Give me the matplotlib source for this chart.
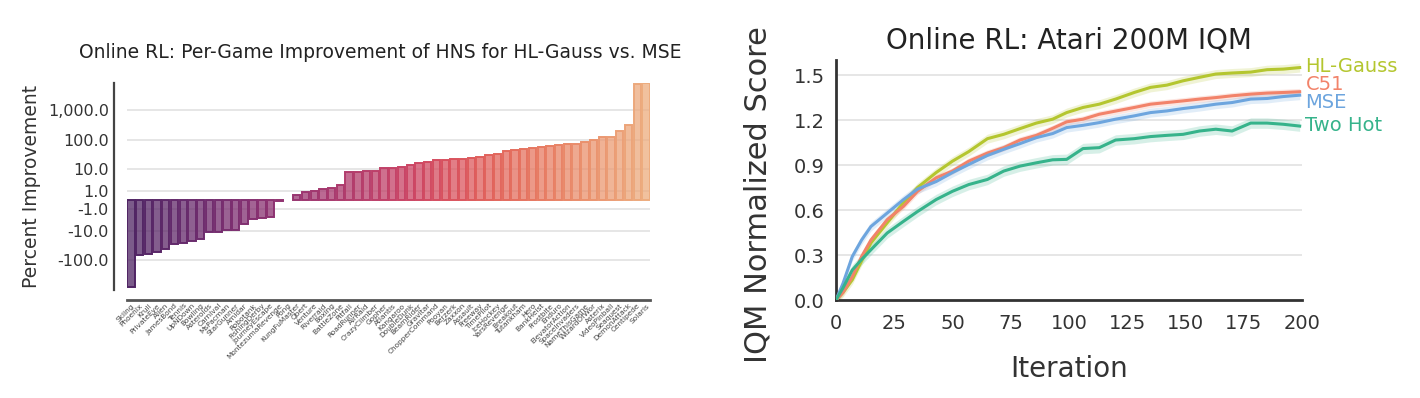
import numpy as np
import matplotlib
matplotlib.use("Agg")
import matplotlib.pyplot as plt
import seaborn as sns
from matplotlib.ticker import FixedLocator, FuncFormatter

plt.rcParams['font.family'] = ['DejaVu Sans']

# ---------------- data: per-game improvement ----------------
games = ["Skiing", "Phoenix", "Krull", "PrivateEye", "Alien", "JamesBond", "Tennis",
         "UpNDown", "Bowling", "Asteroids", "Carnival", "MsPacman", "StarGunner", "Amidar",
         "Robotank", "FishingDerby", "JourneyEscape", "MontezumaRevenge", "Pong",
         "KungFuMaster", "Qbert", "Venture", "Riverraid", "Boxing", "BattleZone", "Pitfall",
         "RoadRunner", "AirRaid", "CrazyClimber", "Gopher", "Atlantis", "Kangaroo",
         "DoubleDunk", "BeamRider", "Gravitar", "ChopperCommand", "Pooyan", "Berzerk",
         "Zaxxon", "Assault", "Freeway", "TimePilot", "IceHockey", "YarsRevenge",
         "Breakout", "Tutankham", "Hero", "BankHeist", "Frostbite", "Enduro",
         "ElevatorAction", "SpaceInvaders", "NameThisGame", "WizardOfWor", "Asterix",
         "VideoPinball", "Seaquest", "DemonAttack", "Centipede", "Solaris"]
improvement = [-812, -68, -62, -53, -43, -28, -27, -23, -19.4, -11, -11, -9.2, -9.2, -5.5,
               -3.4, -3.0, -2.7, -0.05, float('nan'), 0.43, 0.81, 1.0, 1.33, 1.5, 2.16, 7.4,
               7.4, 8.0, 8.0, 10.4, 10.4, 11.4, 13.5, 15.6, 17, 20, 20, 21.7, 21.7, 23.5,
               25.5, 30, 32.5, 41, 44, 48, 51.7, 56, 60.7, 65.5, 71, 71, 83, 97, 122, 122,
               194, 308, 7190, 7760]
y_ticks_left = [-100, -10, -1, 1, 10, 100, 1000]

# ---------------- data: learning curves ----------------
iterations = [0, 3, 7, 11, 15, 22, 29, 35, 43, 50, 57, 65, 72, 79, 86, 93, 99, 106, 113,
              120, 128, 135, 142, 149, 156, 163, 170, 178, 185, 192, 199]
hl_gauss = [0, 0.05, 0.134, 0.26, 0.38, 0.515, 0.65, 0.75, 0.85, 0.926, 0.99, 1.076, 1.105,
            1.143, 1.18, 1.206, 1.25, 1.284, 1.306, 1.34, 1.384, 1.418, 1.433, 1.462, 1.485,
            1.507, 1.514, 1.52, 1.536, 1.54, 1.55]
c51 = [0, 0.05, 0.156, 0.29, 0.40, 0.536, 0.625, 0.725, 0.815, 0.86, 0.926, 0.98, 1.016,
       1.067, 1.098, 1.145, 1.188, 1.206, 1.239, 1.26, 1.284, 1.306, 1.317, 1.328, 1.34,
       1.35, 1.362, 1.373, 1.38, 1.384, 1.389]
mse = [0, 0.11, 0.29, 0.40, 0.49, 0.58, 0.67, 0.74, 0.79, 0.85, 0.904, 0.964, 1.005, 1.043,
       1.083, 1.11, 1.15, 1.165, 1.183, 1.206, 1.228, 1.25, 1.261, 1.277, 1.29, 1.306, 1.317,
       1.34, 1.344, 1.357, 1.366]
two_hot = [0, 0.08, 0.2, 0.27, 0.335, 0.447, 0.525, 0.59, 0.67, 0.725, 0.77, 0.804, 0.86,
           0.893, 0.915, 0.935, 0.938, 1.01, 1.016, 1.067, 1.076, 1.09, 1.098, 1.105, 1.127,
           1.139, 1.127, 1.18, 1.18, 1.172, 1.16]
band_halfwidth = {"HL-Gauss": 0.03, "C51": 0.022, "MSE": 0.03, "Two Hot": 0.035}
series_names = ["HL-Gauss", "C51", "MSE", "Two Hot"]
label_y = [1.56, 1.44, 1.32, 1.165]

# ---------------- figure ----------------
fig = plt.figure(figsize=(14.2, 3.98), dpi=100)

# left panel
axL = fig.add_axes([0.0894, 0.2714, 0.3683, 0.5201])
for s in ['top', 'right']:
    axL.spines[s].set_visible(False)
axL.spines['left'].set_position(('outward', 9))
axL.spines['bottom'].set_position(('outward', 7))
axL.spines['left'].set_color('#444444')
axL.spines['left'].set_linewidth(1.6)
axL.spines['bottom'].set_color('#555555')
axL.spines['bottom'].set_linewidth(2.0)

def fwd(v):
    v = np.asarray(v, dtype=float)
    return np.sign(v) * np.log10(1 + np.abs(v))

def inv(u):
    u = np.asarray(u, dtype=float)
    return np.sign(u) * (10 ** np.abs(u) - 1)

axL.set_yscale('function', functions=(fwd, inv))
colors = sns.color_palette("flare_r", len(games))
x = np.arange(len(games))
for i, (g, v) in enumerate(zip(games, improvement)):
    axL.bar(x[i], v, width=0.84, color=colors[i], alpha=0.75, edgecolor='none', zorder=3)
    axL.bar(x[i], v, width=0.84, facecolor='none', edgecolor=colors[i], linewidth=1.4, zorder=4)
axL.set_ylim(inv(-3.0), inv(3.9))
axL.set_xlim(-0.45, len(games) - 0.55)
axL.yaxis.set_major_locator(FixedLocator(y_ticks_left))
axL.yaxis.set_minor_locator(FixedLocator([]))
axL.yaxis.set_major_formatter(FuncFormatter(lambda v, p: f"{v:,.1f}"))
axL.tick_params(axis='both', length=0)
axL.tick_params(axis='y', labelsize=11.5, colors='#333333', pad=4)
axL.tick_params(axis='x', pad=2)
axL.set_xticks(x)
axL.set_xticklabels(games, rotation=45, ha='right', rotation_mode='anchor',
                    fontsize=5.3, color='#444444')
axL.grid(axis='y', color='#e4e4e4', linewidth=1.3, zorder=0)
axL.set_axisbelow(True)
axL.set_ylabel("Percent Improvement", fontsize=13.5, color='#333333', labelpad=5)
axL.set_title("Online RL: Per-Game Improvement of HNS for HL-Gauss vs. MSE", fontsize=13.5,
              color='#222222', pad=18, x=0.485)

# right panel
axR = fig.add_axes([0.5887, 0.2462, 0.3282, 0.6028])
for s in ['top', 'right']:
    axR.spines[s].set_visible(False)
for s in ['left', 'bottom']:
    axR.spines[s].set_color('#333333')
    axR.spines[s].set_linewidth(2.0)
line_colors = {"HL-Gauss": "#b4c62f", "C51": "#f2836a", "MSE": "#6da5de", "Two Hot": "#36b38b"}
series = {"HL-Gauss": hl_gauss, "C51": c51, "MSE": mse, "Two Hot": two_hot}
it = np.array(iterations, dtype=float)
for name in series_names:
    y = np.array(series[name])
    hw = band_halfwidth[name]
    axR.fill_between(it, y - hw, y + hw, color=line_colors[name], alpha=0.2, linewidth=0, zorder=2)
    axR.plot(it, y, color=line_colors[name], linewidth=2.2, zorder=3)
for name, ly in zip(series_names, label_y):
    axR.text(201.5, ly, name, color=line_colors[name], fontsize=14, va='center', ha='left',
             clip_on=False)
axR.set_xlim(0, 200)
axR.set_ylim(0, 1.6)
axR.set_xticks([0, 25, 50, 75, 100, 125, 150, 175, 200])
axR.set_yticks([0.0, 0.3, 0.6, 0.9, 1.2, 1.5])
axR.yaxis.set_major_formatter(FuncFormatter(lambda v, p: f"{v:.1f}"))
axR.tick_params(axis='both', labelsize=14, colors='#333333', length=0)
axR.tick_params(axis='x', pad=10)
axR.tick_params(axis='y', pad=8)
axR.grid(axis='y', color='#e4e4e4', linewidth=1.3, zorder=0)
axR.set_axisbelow(True)
axR.set_xlabel("Iteration", fontsize=20, color='#333333', labelpad=16)
axR.set_ylabel("IQM Normalized Score", fontsize=22, color='#333333')
axR.yaxis.set_label_coords(-0.137, 0.44)
axR.set_title("Online RL: Atari 200M IQM", fontsize=20, color='#222222', pad=8)

fig.savefig("out.png", dpi=100)
